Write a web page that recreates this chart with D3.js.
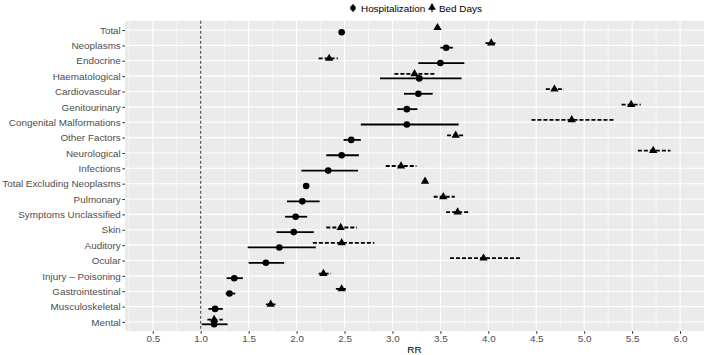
<!DOCTYPE html>
<html>
<head>
<meta charset="utf-8">
<script src="https://cdn.jsdelivr.net/npm/d3@7"></script>
<style>
  body { margin: 0; background: #fff; }
  text { font-family: "Liberation Sans", Arial, sans-serif; }
</style>
</head>
<body>
<div id="chart"></div>
<script>
// categories, top to bottom
var categories = ["Total", "Neoplasms", "Endocrine", "Haematological", "Cardiovascular",
    "Genitourinary", "Congenital Malformations", "Other Factors", "Neurological", "Infections",
    "Total Excluding Neoplasms", "Pulmonary", "Symptoms Unclassified", "Skin", "Auditory",
    "Ocular", "Injury \u2013 Poisoning", "Gastrointestinal", "Musculoskeletal", "Mental"];

// Hospitalization RR and 95% CI
var hospRR = [2.47, 3.56, 3.50, 3.28, 3.27, 3.15, 3.15, 2.57, 2.47, 2.33,
    2.10, 2.06, 1.99, 1.97, 1.82, 1.68, 1.35, 1.30, 1.15, 1.14];
var hospLo = [2.45, 3.50, 3.27, 2.87, 3.12, 3.05, 2.67, 2.49, 2.31, 2.05,
    2.08, 1.90, 1.88, 1.79, 1.49, 1.50, 1.27, 1.26, 1.08, 1.01];
var hospHi = [2.49, 3.63, 3.75, 3.72, 3.42, 3.26, 3.69, 2.67, 2.65, 2.64,
    2.12, 2.24, 2.11, 2.18, 2.20, 1.87, 1.44, 1.36, 1.23, 1.28];

// Bed days RR and 95% CI
var bedRR = [3.47, 4.03, 2.34, 3.23, 4.69, 5.49, 4.87, 3.66, 5.72, 3.09,
    3.34, 3.53, 3.68, 2.46, 2.47, 3.95, 2.28, 2.47, 1.73, 1.14];
var bedLo = [3.45, 3.97, 2.23, 3.02, 4.60, 5.39, 4.45, 3.57, 5.56, 2.93,
    3.32, 3.43, 3.56, 2.31, 2.17, 3.60, 2.23, 2.41, 1.68, 1.07];
var bedHi = [3.49, 4.08, 2.43, 3.45, 4.79, 5.59, 5.32, 3.75, 5.90, 3.25,
    3.36, 3.65, 3.80, 2.63, 2.81, 4.34, 2.36, 2.52, 1.78, 1.23];

var xTicks = [0.5, 1.0, 1.5, 2.0, 2.5, 3.0, 3.5, 4.0, 4.5, 5.0, 5.5, 6.0];
var refLine = 1;

var W = 708, H = 355;
var panel = {left: 125, right: 704, top: 20.8, bottom: 331.2};
var dodge = 2.3;
var fs = "9.9px";

var svg = d3.select("#chart").append("svg")
    .attr("width", W)
    .attr("height", H);

var x = d3.scaleLinear()
    .domain([0.21, 6.25])
    .range([panel.left, panel.right]);

var y = d3.scalePoint()
    .domain(categories)
    .range([panel.top, panel.bottom])
    .padding(0.6);

// panel background
svg.append("rect")
    .attr("x", panel.left)
    .attr("y", panel.top)
    .attr("width", panel.right - panel.left)
    .attr("height", panel.bottom - panel.top)
    .style("fill", "#EBEBEB");

// minor x grid (half way between major ticks)
var minor = [0.25].concat(xTicks.map(function(d) { return d + 0.25; }));
svg.selectAll(".minor")
    .data(minor.filter(function(d) { return d > 0.21 && d < 6.25; }))
    .enter().append("line")
    .attr("class", "minor")
    .attr("x1", function(d) { return x(d); })
    .attr("x2", function(d) { return x(d); })
    .attr("y1", panel.top)
    .attr("y2", panel.bottom)
    .style("stroke", "#fff")
    .style("stroke-width", 0.55);

// major grid
svg.selectAll(".xgrid")
    .data(xTicks)
    .enter().append("line")
    .attr("class", "xgrid")
    .attr("x1", function(d) { return x(d); })
    .attr("x2", function(d) { return x(d); })
    .attr("y1", panel.top)
    .attr("y2", panel.bottom)
    .style("stroke", "#fff")
    .style("stroke-width", 1.1);

svg.selectAll(".ygrid")
    .data(categories)
    .enter().append("line")
    .attr("class", "ygrid")
    .attr("x1", panel.left)
    .attr("x2", panel.right)
    .attr("y1", function(d) { return y(d); })
    .attr("y2", function(d) { return y(d); })
    .style("stroke", "#fff")
    .style("stroke-width", 1.1);

// reference line at RR = 1
svg.append("line")
    .attr("x1", x(refLine))
    .attr("x2", x(refLine))
    .attr("y1", panel.top)
    .attr("y2", panel.bottom)
    .style("stroke", "#000")
    .style("stroke-width", 0.8)
    .style("stroke-dasharray", "3,2");

// axes
var xAxis = svg.append("g")
    .attr("transform", "translate(0," + panel.bottom + ")")
    .call(d3.axisBottom(x).tickValues(xTicks).tickFormat(d3.format(".1f")).tickSize(2.7).tickPadding(1.5));
var yAxis = svg.append("g")
    .attr("transform", "translate(" + panel.left + ",0)")
    .call(d3.axisLeft(y).tickSize(2.7).tickPadding(1.5));

[xAxis, yAxis].forEach(function(g) {
    g.select(".domain").remove();
    g.selectAll(".tick line").style("stroke", "#333").style("stroke-width", 1);
    g.selectAll(".tick text")
        .style("fill", "#4D4D4D")
        .style("font-size", fs)
        .style("font-family", "'Liberation Sans', Arial, sans-serif");
});

svg.append("text")
    .attr("x", (panel.left + panel.right) / 2)
    .attr("y", 352.5)
    .attr("text-anchor", "middle")
    .style("font-size", fs)
    .style("fill", "#000")
    .text("RR");

// rows
var rows = categories.map(function(c, i) {
    return {cat: c, hRR: hospRR[i], hLo: hospLo[i], hHi: hospHi[i],
        bRR: bedRR[i], bLo: bedLo[i], bHi: bedHi[i]};
});

var triangle = d3.symbol().type(d3.symbolTriangle).size(30);

// bed days (dashed, triangles, dodged up)
svg.selectAll(".bedci")
    .data(rows)
    .enter().append("line")
    .attr("class", "bedci")
    .attr("x1", function(d) { return x(d.bLo); })
    .attr("x2", function(d) { return x(d.bHi); })
    .attr("y1", function(d) { return y(d.cat) - dodge; })
    .attr("y2", function(d) { return y(d.cat) - dodge; })
    .style("stroke", "#000")
    .style("stroke-width", 1.8)
    .style("stroke-dasharray", "4,2");

svg.selectAll(".bedpt")
    .data(rows)
    .enter().append("path")
    .attr("class", "bedpt")
    .attr("d", triangle)
    .attr("transform", function(d) {
        return "translate(" + x(d.bRR) + "," + (y(d.cat) - dodge) + ")";
    })
    .style("fill", "#000");

// hospitalization (solid, circles, dodged down)
svg.selectAll(".hospci")
    .data(rows)
    .enter().append("line")
    .attr("class", "hospci")
    .attr("x1", function(d) { return x(d.hLo); })
    .attr("x2", function(d) { return x(d.hHi); })
    .attr("y1", function(d) { return y(d.cat) + dodge; })
    .attr("y2", function(d) { return y(d.cat) + dodge; })
    .style("stroke", "#000")
    .style("stroke-width", 1.8);

svg.selectAll(".hosppt")
    .data(rows)
    .enter().append("circle")
    .attr("class", "hosppt")
    .attr("cx", function(d) { return x(d.hRR); })
    .attr("cy", function(d) { return y(d.cat) + dodge; })
    .attr("r", 3.3)
    .style("fill", "#000");

// legend
var legend = svg.append("g").attr("transform", "translate(0,8)");
legend.append("line")
    .attr("x1", 353).attr("x2", 353).attr("y1", -4).attr("y2", 4)
    .style("stroke", "#000").style("stroke-width", 1.2);
legend.append("circle")
    .attr("cx", 353).attr("cy", 0).attr("r", 2.8).style("fill", "#000");
legend.append("text")
    .attr("x", 361).attr("y", 3.5)
    .style("font-size", fs)
    .text("Hospitalization");
legend.append("line")
    .attr("x1", 432).attr("x2", 432).attr("y1", -4).attr("y2", 4)
    .style("stroke", "#000").style("stroke-width", 1.2);
legend.append("path")
    .attr("d", d3.symbol().type(d3.symbolTriangle).size(26))
    .attr("transform", "translate(432,-0.5)")
    .style("fill", "#000");
legend.append("text")
    .attr("x", 439).attr("y", 3.5)
    .style("font-size", fs)
    .text("Bed Days");
</script>
</body>
</html>
